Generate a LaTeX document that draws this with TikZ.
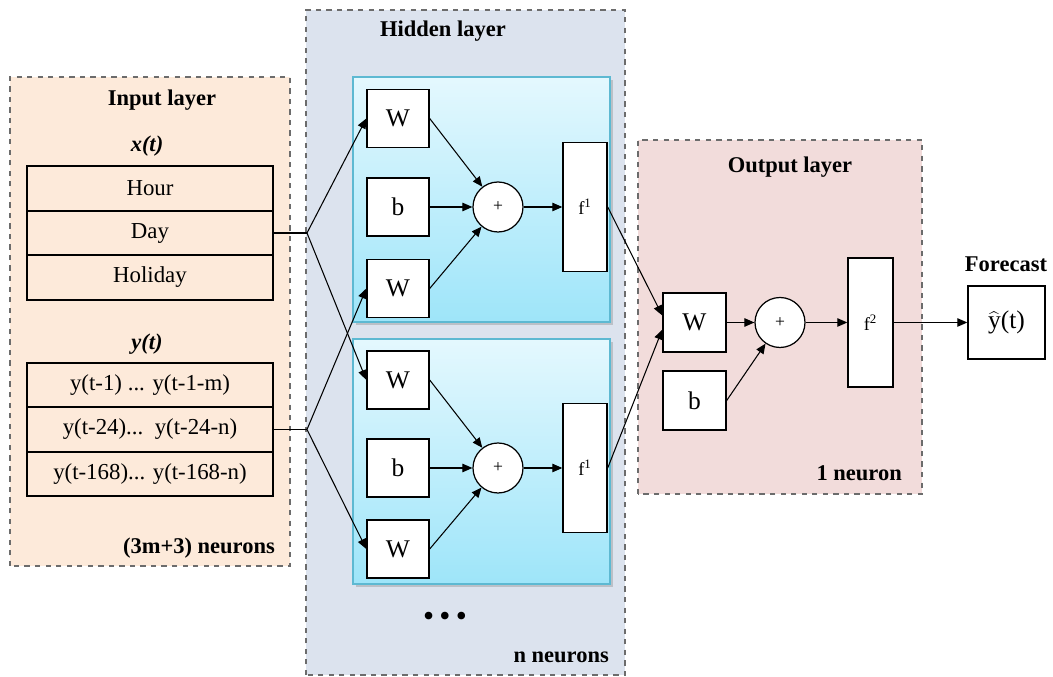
\documentclass[tikz,border=0pt]{standalone}
\usepackage{fontspec}
\setmainfont{Liberation Serif}
\usepackage{xcolor}
\usepackage{tikz}
\usetikzlibrary{arrows.meta}
\usetikzlibrary{shadows}

\definecolor{inputfill}{HTML}{FDEADA}
\definecolor{hiddenfill}{HTML}{DCE3EE}
\definecolor{outputfill}{HTML}{F2DCDB}
\definecolor{celltop}{HTML}{E4F8FE}
\definecolor{cellbot}{HTML}{9EE5F9}
\definecolor{cellline}{HTML}{5DB9D2}

\tikzset{
  layer/.style={draw=gray!85!black, dashed, line width=0.6pt},
  title/.style={font=\fontsize{12.8}{15}\selectfont\bfseries},
  row/.style={draw, line width=0.9pt, minimum width=4.92cm, minimum height=0.89cm,
    inner sep=0pt, font=\fontsize{13}{15}\selectfont},
  cell/.style={draw=cellline, line width=0.8pt, top color=celltop, bottom color=cellbot,
    drop shadow={opacity=0.35, shadow xshift=0.6mm, shadow yshift=-0.6mm}},
  unit/.style={draw, fill=white, line width=0.8pt, minimum width=1.24cm, minimum height=1.16cm,
    inner sep=0pt, font=\fontsize{14.5}{16}\selectfont},
  sum/.style={draw, circle, fill=white, line width=0.7pt, minimum size=1cm, inner sep=0pt,
    font=\fontsize{10}{12}\selectfont},
  act/.style={draw, fill=white, line width=0.8pt, minimum width=0.88cm, minimum height=2.58cm,
    inner sep=0pt, font=\fontsize{10.5}{12}\selectfont},
  conn/.style={line width=0.6pt}
}

\begin{document}
\begin{tikzpicture}[>={Triangle[length=2mm,width=1.7mm]}]
\useasboundingbox (0,0) rectangle (21.06,13.54);

% layer frames
\draw[layer, fill=inputfill] (0.2,2.22) rectangle (5.8,12.0);
\draw[layer, fill=hiddenfill] (6.12,0.04) rectangle (12.5,13.34);
\draw[layer, fill=outputfill] (12.76,3.66) rectangle (18.44,10.74);

% input layer
\node[title] (intitle) at (3.24,11.54) {Input layer};
\node[title] (xt) at (2.94,10.62) {\textit{x(t)}};
\node[row] (hour) at (3.0,9.77) {Hour};
\node[row] (day) at (3.0,8.88) {Day};
\node[row] (holiday) at (3.0,7.99) {Holiday};
\node[title] (yt) at (2.94,6.66) {\textit{y(t)}};
\node[row] (lag1) at (3.0,5.84) {y(t-1) ... y(t-1-m)};
\node[row] (lag24) at (3.0,4.95) {y(t-24)...\ \ y(t-24-n)};
\node[row] (lag168) at (3.0,4.06) {y(t-168)... y(t-168-n)};
\node[title, anchor=east] (inneurons) at (5.62,2.58) {(3m+3) neurons};

% hidden layer
\node[title] (hidtitle) at (8.86,12.92) {Hidden layer};
\draw[cell] (7.06,7.1) rectangle (12.2,12.0);
\draw[cell] (7.06,1.86) rectangle (12.2,6.76);

\node[unit] (w1a) at (7.96,11.17) {W};
\node[unit] (b1) at (7.96,9.40) {b};
\node[unit] (w1b) at (7.96,7.77) {W};
\node[sum] (s1) at (9.96,9.40) {+};
\node[act] (f1a) at (11.7,9.40) {f\textsuperscript{1}};

\node[unit] (w2a) at (7.96,5.94) {W};
\node[unit] (b2) at (7.96,4.18) {b};
\node[unit] (w2b) at (7.96,2.56) {W};
\node[sum] (s2) at (9.96,4.18) {+};
\node[act] (f2a) at (11.7,4.18) {f\textsuperscript{1}};

\node[font=\fontsize{18}{18}\selectfont] (dots) at (8.9,1.16) {\textbullet\,\textbullet\,\textbullet};
\node[title, anchor=east] (hidneurons) at (12.3,0.4) {n neurons};

% output layer
\node[title] (outtitle) at (15.8,10.2) {Output layer};
\node[unit, minimum width=1.26cm, minimum height=1.18cm] (wo) at (13.89,7.09) {W};
\node[unit, minimum width=1.26cm, minimum height=1.18cm] (bo) at (13.89,5.53) {b};
\node[sum] (so) at (15.6,7.09) {+};
\node[act, minimum width=0.9cm] (fo) at (17.41,7.09) {f\textsuperscript{2}};
\node[title, anchor=east] (outneurons) at (18.16,4.08) {1 neuron};

\node[title] (fctitle) at (20.12,8.26) {Forecast};
\node[unit, minimum width=1.54cm, minimum height=1.46cm] (yhat) at (20.13,7.09) {$\widehat{\mathrm{y}}$(t)};

% connections
\coordinate (j1) at (6.14,8.88);
\coordinate (j2) at (6.14,4.95);
\draw[conn] (day.east) -- (j1);
\draw[conn] (lag24.east) -- (j2);
\draw[conn,->] (j1) -- (w1a.west);
\draw[conn,->] (j1) -- (w2a.west);
\draw[conn,->] (j2) -- (w1b.west);
\draw[conn,->] (j2) -- (w2b.west);

\draw[conn,->] (w1a.east) -- (s1);
\draw[conn,->] (b1.east) -- (s1);
\draw[conn,->] (w1b.east) -- (s1);
\draw[conn,->] (s1) -- (f1a);
\draw[conn,->] (w2a.east) -- (s2);
\draw[conn,->] (b2.east) -- (s2);
\draw[conn,->] (w2b.east) -- (s2);
\draw[conn,->] (s2) -- (f2a);

\draw[conn,->] (f1a.east) -- ([yshift=1.4mm]wo.west);
\draw[conn,->] (f2a.east) -- ([yshift=-1.4mm]wo.west);
\draw[conn,->] (wo) -- (so);
\draw[conn,->] (bo.east) -- (so);
\draw[conn,->] (so) -- (fo);
\draw[conn,->] (fo) -- (yhat);
\end{tikzpicture}
\end{document}
